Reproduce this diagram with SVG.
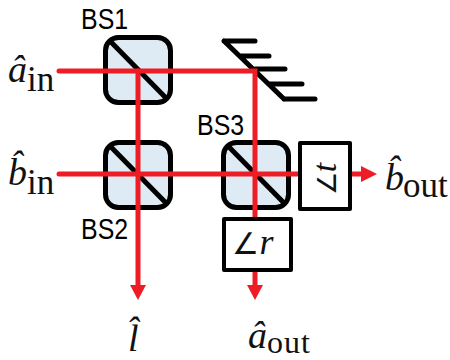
<svg xmlns="http://www.w3.org/2000/svg" width="450" height="360" viewBox="0 0 450 360">
<style>
.cube{fill:#deebf5;stroke:#000;stroke-width:5}
.diag{stroke:#000;stroke-width:5;fill:none}
.box{fill:#fff;stroke:#000;stroke-width:4;stroke-linejoin:round}
.mir{stroke:#000;stroke-width:5;stroke-linecap:round;fill:none}
.ray{stroke:#ee1c25;stroke-width:5;fill:none;stroke-linecap:round}
.head{fill:#ee1c25}
.bs{font-family:"Liberation Sans",Arial,sans-serif;font-size:29px;fill:#000}
.mi{font-style:italic;font-family:"Liberation Serif",serif;font-size:38px;fill:#111}
.sub{font-family:"Liberation Serif",serif;font-size:35px;fill:#111}
.ang{font-family:"DejaVu Sans",sans-serif;font-size:30px;font-style:normal;font-weight:200}
</style>
<g id="BS1"><rect class="cube" x="105.500" y="37.500" width="65" height="65" rx="13"/><path class="diag" d="M110 41 L167 99"/><text class="bs" transform="translate(81,29) scale(0.86,1)">BS1</text></g>
<g id="BS2"><rect class="cube" x="105.500" y="142.500" width="65" height="65" rx="13"/><path class="diag" d="M110 146 L167 204"/><text class="bs" transform="translate(81,239) scale(0.86,1)">BS2</text></g>
<g id="BS3"><rect class="cube" x="223.500" y="142.500" width="65" height="65" rx="13"/><path class="diag" d="M228 146 L285 204"/><text class="bs" transform="translate(197,135) scale(0.86,1)">BS3</text></g>
<g id="mirror"><path class="mir" d="M224 41 L284 99 M224 41 H255 M240 56 H269 M255 69 H285 M270 84 H302 M284 99 H315"/></g>
<g id="connectors">
<path class="ray" d="M59 71 H255 V218"/>
<path class="ray" d="M138 71 V287"/>
<path class="ray" d="M59 174 H298"/>
<path class="ray" style="stroke-linecap:butt" d="M351 174 H363"/>
<path class="ray" style="stroke-linecap:butt" d="M255 270 V286"/>
<polygon class="head" points="130,285 146,285 138,300"/>
<polygon class="head" points="247,285 263,285 255,300"/>
<polygon class="head" points="361,166 361,182 377,174"/>
</g>
<g id="phase-t"><rect class="box" x="300" y="143" width="50" height="66"/><text class="mi" transform="translate(336,179) rotate(-90)" text-anchor="middle" style="font-size:34px"><tspan class="ang" style="font-size:26px">∠</tspan>t</text></g>
<g id="phase-r"><rect class="box" x="224" y="219" width="67" height="51"/><text class="mi" x="253" y="254" text-anchor="middle" style="font-size:36px"><tspan class="ang">∠</tspan>r</text></g>
<g id="label-a-in"><text x="8" y="82"><tspan class="mi">â</tspan><tspan class="sub" dy="9">in</tspan></text></g>
<g id="label-b-in"><text x="8" y="185"><tspan class="mi">b̂</tspan><tspan class="sub" dy="9">in</tspan></text></g>
<g id="label-b-out"><text x="385" y="190"><tspan class="mi">b̂</tspan><tspan class="sub" dy="7" dx="-1">out</tspan></text></g>
<g id="label-a-out"><text x="248" y="348"><tspan class="mi">â</tspan><tspan class="sub" dy="5" style="font-size:32px;letter-spacing:1px">out</tspan></text></g>
<g id="label-l"><text x="128" y="351" class="mi">l̂</text></g>
</svg>
